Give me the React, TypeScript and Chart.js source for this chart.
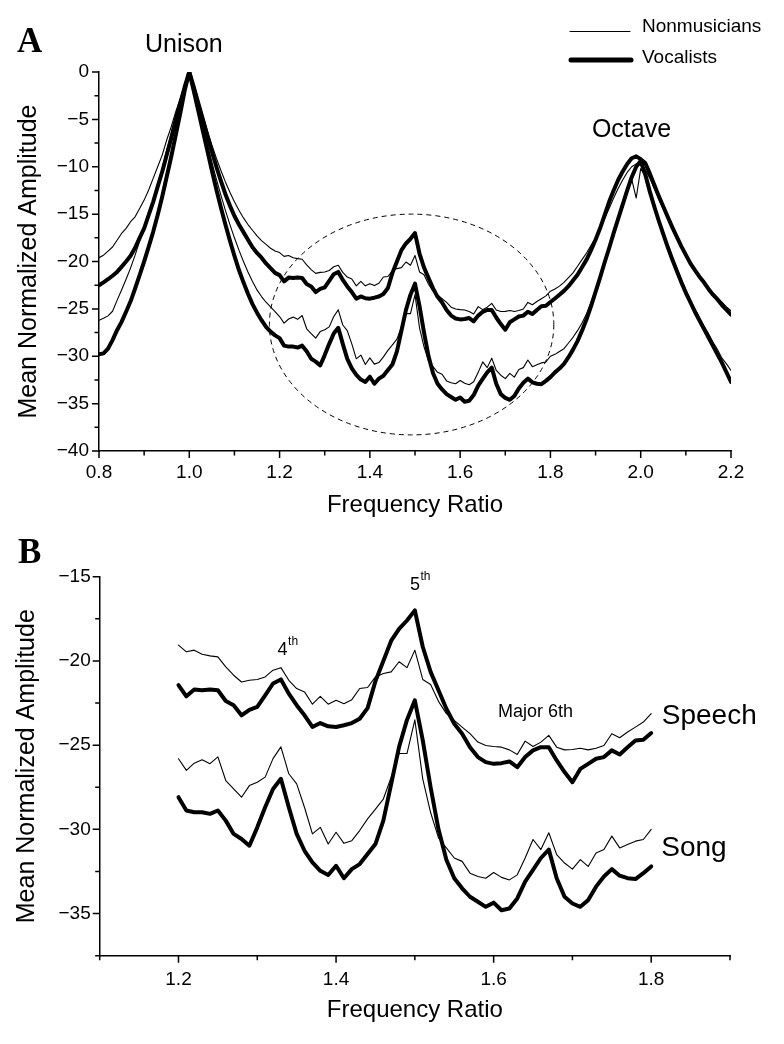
import React, { useEffect, useRef } from 'react';
import { Chart, registerables } from 'chart.js';

Chart.register(...registerables);

// ---------- data (frequency ratio, mean normalized amplitude in dB) ----------
const FREQ = [
  0.80, 0.81, 0.82, 0.83, 0.84, 0.85, 0.86, 0.87, 0.88, 0.89,
  0.90, 0.91, 0.92, 0.93, 0.94, 0.95, 0.96, 0.97, 0.98, 0.99,
  1.00, 1.01, 1.02, 1.03, 1.04, 1.05, 1.06, 1.07, 1.08, 1.09,
  1.10, 1.11, 1.12, 1.13, 1.14, 1.15, 1.16, 1.17, 1.18, 1.19,
  1.20, 1.21, 1.22, 1.23, 1.24, 1.25, 1.26, 1.27, 1.28, 1.29,
  1.30, 1.31, 1.32, 1.33, 1.34, 1.35, 1.36, 1.37, 1.38, 1.39,
  1.40, 1.41, 1.42, 1.43, 1.44, 1.45, 1.46, 1.47, 1.48, 1.49,
  1.50, 1.51, 1.52, 1.53, 1.54, 1.55, 1.56, 1.57, 1.58, 1.59,
  1.60, 1.61, 1.62, 1.63, 1.64, 1.65, 1.66, 1.67, 1.68, 1.69,
  1.70, 1.71, 1.72, 1.73, 1.74, 1.75, 1.76, 1.77, 1.78, 1.79,
  1.80, 1.81, 1.82, 1.83, 1.84, 1.85, 1.86, 1.87, 1.88, 1.89,
  1.90, 1.91, 1.92, 1.93, 1.94, 1.95, 1.96, 1.97, 1.98, 1.99,
  2.00, 2.01, 2.02, 2.03, 2.04, 2.05, 2.06, 2.07, 2.08, 2.09,
  2.10, 2.11, 2.12, 2.13, 2.14, 2.15, 2.16, 2.17, 2.18, 2.19,
  2.20,
];

const NONMUSICIAN_SPEECH = [
  -19.6, -19.33, -18.9, -18.47, -17.75, -17.04, -16.5, -15.8, -15.28, -14.4,
  -13.52, -12.46, -11.23, -10.0, -8.77, -7.18, -5.78, -4.19, -2.78, -1.37,
  0, -1.5, -3.0, -4.6, -6.2, -7.7, -9.1, -10.4, -11.6, -12.7,
  -13.7, -14.6, -15.4, -16.1, -16.7, -17.3, -17.8, -18.2, -18.6, -18.9,
  -19.06, -19.46, -19.36, -19.6, -19.7, -19.76, -20.35, -20.85, -21.25, -21.15,
  -21.1, -20.95, -20.55, -20.4, -21.15, -21.64, -21.84, -22.57, -22.1, -22.57,
  -22.34, -22.54, -22.3, -21.64, -21.58, -20.95, -20.75, -20.65, -20.05, -20.4,
  -19.36, -21.1, -21.4, -22.4, -23.13, -23.53, -23.93, -24.32, -24.82, -25.02,
  -25.08, -25.12, -25.28, -25.55, -24.76, -25.08, -24.82, -24.42, -25.12, -25.28,
  -25.26, -25.18, -25.28, -25.18, -25.02, -24.32, -24.56, -24.22, -23.93, -23.63,
  -23.13, -22.9, -22.6, -22.2, -21.7, -21.2, -20.5, -19.8, -19.1, -18.3,
  -17.5, -16.5, -15.5, -14.4, -13.3, -12.3, -11.4, -10.6, -10.0, -9.7,
  -9.8, -10.3, -11.2, -12.3, -13.4, -14.5, -15.5, -16.5, -17.4, -18.3,
  -19.2, -20.0, -20.8, -21.5, -22.1, -22.7, -23.3, -23.8, -24.3, -24.8,
  -25.2,
];

const VOCALIST_SPEECH = [
  -22.5, -22.2, -21.87, -21.5, -21.1, -20.56, -20.0, -19.4, -18.55, -17.5,
  -16.5, -15.1, -13.7, -12.1, -10.53, -8.77, -7.0, -5.07, -3.3, -1.55,
  0, -1.6, -3.3, -5.0, -6.7, -8.4, -10.0, -11.5, -12.9, -14.1,
  -15.2, -16.1, -16.9, -17.7, -18.5, -19.1, -19.6, -20.2, -20.7, -21.2,
  -21.44, -22.1, -21.7, -21.74, -21.7, -21.74, -22.38, -22.63, -23.23, -22.9,
  -22.73, -22.04, -21.34, -21.1, -21.94, -22.63, -23.23, -23.92, -23.69, -23.88,
  -23.92, -23.82, -23.69, -23.43, -22.8, -21.2, -20.0, -18.8, -18.1, -17.6,
  -17.0, -19.16, -20.65, -21.74, -22.84, -23.73, -24.32, -25.12, -25.71, -26.01,
  -26.11, -26.07, -25.97, -26.31, -25.71, -25.31, -25.12, -25.12, -25.91, -26.6,
  -27.2, -26.41, -26.11, -25.81, -25.71, -25.31, -25.55, -25.12, -24.72, -24.68,
  -24.28, -23.9, -23.5, -23.1, -22.6, -22.0, -21.4, -20.6, -19.8, -18.8,
  -17.7, -16.5, -15.1, -13.7, -12.5, -11.4, -10.5, -9.7, -9.1, -8.9,
  -9.2, -9.6, -10.7, -11.9, -13.1, -14.2, -15.3, -16.4, -17.4, -18.4,
  -19.3, -20.2, -20.9, -21.6, -22.2, -22.9, -23.5, -24.0, -24.6, -25.1,
  -25.6,
];

const NONMUSICIAN_SONG = [
  -26.2, -26.0, -25.74, -25.25, -24.1, -23.0, -21.87, -20.67, -19.33, -17.85,
  -16.5, -15.0, -13.5, -11.76, -10.2, -8.24, -6.48, -4.54, -2.96, -1.37,
  0, -1.9, -3.8, -5.7, -7.6, -9.5, -11.3, -13.0, -14.6, -16.1,
  -17.5, -18.8, -20.0, -21.1, -22.1, -23.0, -23.7, -24.3, -24.8, -25.3,
  -25.81, -26.5, -26.07, -25.87, -26.1, -25.7, -27.1, -27.6, -28.09, -27.4,
  -27.2, -26.9, -25.8, -25.1, -26.7, -27.3, -28.7, -30.27, -29.88, -30.87,
  -30.17, -30.83, -30.67, -30.07, -29.38, -28.8, -28.2, -26.9, -25.5, -25.5,
  -23.5, -27.0, -29.0, -30.5, -31.1, -31.7, -31.9, -32.6, -32.8, -32.9,
  -32.56, -32.85, -33.0, -32.7, -31.7, -30.6, -31.2, -30.2, -31.5, -32.0,
  -32.36, -31.8, -32.2, -31.4, -31.2, -30.4, -31.1, -30.9, -30.7, -30.6,
  -30.0, -29.8, -29.5, -29.2, -28.6, -28.0, -27.3, -26.5, -25.5, -24.3,
  -23.0, -21.6, -20.2, -18.8, -17.3, -15.8, -14.3, -12.8, -11.3, -13.3,
  -10.2, -11.0, -12.5, -14.0, -15.5, -16.9, -18.2, -19.5, -20.7, -21.9,
  -23.0, -24.0, -25.0, -25.9, -26.8, -27.6, -28.5, -29.3, -30.2, -30.8,
  -31.5,
];

const VOCALIST_SONG = [
  -29.8, -29.7, -29.2, -28.3, -27.25, -26.37, -25.3, -24.2, -22.85, -21.44,
  -20.0, -18.45, -16.87, -15.1, -13.17, -11.06, -8.95, -6.65, -4.36, -1.9,
  0, -2.0, -4.1, -6.2, -8.3, -10.4, -12.4, -14.3, -16.1, -17.8,
  -19.4, -20.9, -22.2, -23.4, -24.5, -25.4, -26.2, -26.9, -27.4, -27.8,
  -28.09, -28.88, -28.98, -28.98, -29.08, -28.88, -29.48, -30.27, -30.57, -30.97,
  -29.88, -28.69, -27.6, -27.0, -28.69, -30.27, -31.27, -31.96, -32.46, -32.71,
  -32.16, -32.9, -32.36, -32.06, -31.46, -30.87, -29.48, -27.3, -25.1, -23.5,
  -22.34, -24.7, -27.5, -30.0, -31.8, -32.9, -33.5, -34.0, -34.3, -34.6,
  -34.35, -34.8, -34.7, -34.1, -33.1, -32.4, -31.7, -31.2, -32.9, -34.0,
  -34.4, -34.6, -34.2, -33.4, -32.8, -32.36, -32.75, -32.9, -32.95, -32.6,
  -32.2, -31.7, -31.3, -30.8, -30.1, -29.3, -28.4, -27.3, -26.1, -24.7,
  -23.2, -21.7, -20.1, -18.6, -17.0, -15.5, -14.0, -12.5, -11.1, -10.0,
  -9.4, -10.8, -12.6, -14.2, -15.7, -17.1, -18.5, -19.8, -21.0, -22.2,
  -23.3, -24.3, -25.3, -26.2, -27.1, -28.0, -28.9, -29.8, -30.7, -31.7,
  -32.7,
];

// tick labels shown on each axis
const A_X_LABELED = [0.8, 1.0, 1.2, 1.4, 1.6, 1.8, 2.0, 2.2];
const A_Y_LABELED = [0, -5, -10, -15, -20, -25, -30, -35, -40];
const B_X_LABELED = [1.2, 1.4, 1.6, 1.8];
const B_Y_LABELED = [-15, -20, -25, -30, -35];

// panel B shows the 1.2 – 1.8 window
const B_WINDOW = [1.2, 1.8];

// dashed ellipse of panel A (data units)
const ELLIPSE = { cx: 1.4925, cy: -26.65, rx: 0.315, ry: 11.65 };

// ---------- helpers ----------
const SANS = '"Liberation Sans", Arial, Helvetica, sans-serif';
const SERIF = '"Liberation Serif", "Times New Roman", serif';

const pts = (ys: number[], lo = -Infinity, hi = Infinity) =>
  FREQ.map((x, i) => ({ x, y: ys[i] })).filter((p) => p.x >= lo - 1e-9 && p.x <= hi + 1e-9);

const has = (list: number[], v: number) => list.some((l) => Math.abs(l - v) < 1e-6);
const fmtY = (v: number) => (v < 0 ? '\u2212' + Math.round(Math.abs(v)) : String(Math.round(v)));

function tickPlugin(xMajor: number[], yMajor: number[]) {
  return {
    id: 'tickMarks',
    afterDraw(chart: any) {
      const { ctx, chartArea } = chart;
      const xs = chart.scales.x;
      const ys = chart.scales.y;
      ctx.save();
      ctx.strokeStyle = '#000';
      ctx.lineWidth = 1.5;
      ctx.beginPath();
      xs.ticks.forEach((t: any) => {
        const p = xs.getPixelForValue(t.value);
        const len = has(xMajor, t.value) ? 7 : 4.5;
        ctx.moveTo(p, chartArea.bottom);
        ctx.lineTo(p, chartArea.bottom + len);
      });
      ys.ticks.forEach((t: any) => {
        const p = ys.getPixelForValue(t.value);
        const len = has(yMajor, t.value) ? 7 : 4.5;
        ctx.moveTo(chartArea.left, p);
        ctx.lineTo(chartArea.left - len, p);
      });
      ctx.stroke();
      ctx.restore();
    },
  };
}

type Txt = {
  text: string;
  x?: number;
  y?: number;
  px?: number;
  py?: number;
  size: number;
  align?: CanvasTextAlign;
  bold?: boolean;
  serif?: boolean;
  sup?: string;
  supSize?: number;
};

function textPlugin(items: Txt[]) {
  return {
    id: 'texts',
    afterDraw(chart: any) {
      const { ctx } = chart;
      const xs = chart.scales.x;
      const ys = chart.scales.y;
      ctx.save();
      ctx.fillStyle = '#000';
      ctx.textBaseline = 'alphabetic';
      for (const it of items) {
        const X = it.px !== undefined ? it.px : xs.getPixelForValue(it.x);
        const Y = it.py !== undefined ? it.py : ys.getPixelForValue(it.y);
        ctx.font = `${it.bold ? 'bold ' : ''}${it.size}px ${it.serif ? SERIF : SANS}`;
        ctx.textAlign = it.align || 'left';
        ctx.fillText(it.text, X, Y);
        if (it.sup) {
          const w = ctx.measureText(it.text).width;
          ctx.font = `${it.supSize}px ${SANS}`;
          ctx.textAlign = 'left';
          ctx.fillText(it.sup, X + w + 0.5, Y - it.size * 0.58);
        }
      }
      ctx.restore();
    },
  };
}

const legendPlugin = {
  id: 'styleLegend',
  afterDraw(chart: any) {
    const { ctx } = chart;
    ctx.save();
    ctx.strokeStyle = '#000';
    ctx.lineCap = 'round';
    ctx.lineWidth = 1;
    ctx.beginPath();
    ctx.moveTo(570, 31.5);
    ctx.lineTo(630, 31.5);
    ctx.stroke();
    ctx.lineWidth = 5;
    ctx.beginPath();
    ctx.moveTo(571, 60);
    ctx.lineTo(631, 60);
    ctx.stroke();
    ctx.fillStyle = '#000';
    ctx.font = `19px ${SANS}`;
    ctx.textAlign = 'left';
    ctx.textBaseline = 'alphabetic';
    ctx.fillText('Nonmusicians', 642, 32);
    ctx.fillText('Vocalists', 642, 63);
    ctx.restore();
  },
};

const ellipsePlugin = {
  id: 'dashedEllipse',
  afterDatasetsDraw(chart: any) {
    const { ctx } = chart;
    const xs = chart.scales.x;
    const ys = chart.scales.y;
    const cx = xs.getPixelForValue(ELLIPSE.cx);
    const cy = ys.getPixelForValue(ELLIPSE.cy);
    const rx = Math.abs(xs.getPixelForValue(ELLIPSE.cx + ELLIPSE.rx) - cx);
    const ry = Math.abs(ys.getPixelForValue(ELLIPSE.cy + ELLIPSE.ry) - cy);
    ctx.save();
    ctx.strokeStyle = '#000';
    ctx.lineWidth = 1;
    ctx.setLineDash([5, 4]);
    ctx.beginPath();
    ctx.ellipse(cx, cy, rx, ry, 0, 0, Math.PI * 2);
    ctx.stroke();
    ctx.restore();
  },
};

type PanelCfg = {
  lo: number;
  hi: number;
  xMin: number;
  xMax: number;
  yMin: number;
  yMax: number;
  xLabeled: number[];
  yLabeled: number[];
  padTop: number;
  padRight: number;
  yAxisWidth: number;
  xAxisHeight: number;
  xTickPad: number;
  yTickPad: number;
  xTitlePadBottom: number;
  yTitlePadTop: number;
  extraPlugins: any[];
};

function buildConfig(c: PanelCfg): any {
  const thick = { borderColor: '#000', borderWidth: 4, pointRadius: 0 };
  const thin = { borderColor: '#000', borderWidth: 1.1, pointRadius: 0 };
  return {
    type: 'line',
    data: {
      datasets: [
        { label: 'Vocalists – Speech', data: pts(VOCALIST_SPEECH, c.lo, c.hi), ...thick },
        { label: 'Vocalists – Song', data: pts(VOCALIST_SONG, c.lo, c.hi), ...thick },
        { label: 'Nonmusicians – Speech', data: pts(NONMUSICIAN_SPEECH, c.lo, c.hi), ...thin },
        { label: 'Nonmusicians – Song', data: pts(NONMUSICIAN_SONG, c.lo, c.hi), ...thin },
      ],
    },
    options: {
      responsive: false,
      maintainAspectRatio: false,
      animation: false,
      devicePixelRatio: 1,
      layout: { padding: { left: 0, right: c.padRight, top: c.padTop, bottom: 0 } },
      elements: {
        line: { tension: 0, borderJoinStyle: 'round', borderCapStyle: 'round', fill: false },
        point: { radius: 0, hoverRadius: 0 },
      },
      plugins: { legend: { display: false }, tooltip: { enabled: false }, title: { display: false } },
      events: [],
      scales: {
        x: {
          type: 'linear',
          min: c.xMin,
          max: c.xMax,
          grid: { display: false, drawTicks: false },
          border: { display: true, color: '#000', width: 1.5 },
          ticks: {
            stepSize: 0.1,
            autoSkip: false,
            maxRotation: 0,
            minRotation: 0,
            padding: c.xTickPad,
            color: '#000',
            font: { family: SANS, size: 19, lineHeight: 1.2 },
            callback: (v: number) => (has(c.xLabeled, v) ? Number(v).toFixed(1) : ''),
          },
          title: {
            display: true,
            text: 'Frequency Ratio',
            color: '#000',
            font: { family: SANS, size: 24, lineHeight: 1.2 },
            padding: { top: 0, bottom: c.xTitlePadBottom },
          },
          afterFit: (s: any) => {
            s.height = c.xAxisHeight;
          },
        },
        y: {
          type: 'linear',
          min: c.yMin,
          max: c.yMax,
          grid: { display: false, drawTicks: false },
          border: { display: true, color: '#000', width: 1.5 },
          ticks: {
            stepSize: 2.5,
            autoSkip: false,
            padding: c.yTickPad,
            color: '#000',
            font: { family: SANS, size: 19, lineHeight: 1.2 },
            callback: (v: number) => (has(c.yLabeled, v) ? fmtY(v) : ''),
          },
          title: {
            display: true,
            text: 'Mean Normalized Amplitude',
            color: '#000',
            font: { family: SANS, size: 25, lineHeight: 1.2 },
            padding: { top: c.yTitlePadTop, bottom: 0 },
          },
          afterFit: (s: any) => {
            s.width = c.yAxisWidth;
          },
        },
      },
    },
    plugins: [tickPlugin(c.xLabeled, c.yLabeled), ...c.extraPlugins],
  };
}

const PANEL_A: PanelCfg = {
  lo: -Infinity,
  hi: Infinity,
  xMin: 0.8,
  xMax: 2.2,
  yMin: -40,
  yMax: 0,
  xLabeled: A_X_LABELED,
  yLabeled: A_Y_LABELED,
  padTop: 72,
  padRight: 53,
  yAxisWidth: 99,
  xAxisHeight: 79,
  xTickPad: 10.6,
  yTickPad: 10,
  xTitlePadBottom: 10.6,
  yTitlePadTop: 14,
  extraPlugins: [
    ellipsePlugin,
    legendPlugin,
    textPlugin([
      { text: 'A', px: 17, py: 51.5, size: 35, bold: true, serif: true },
      { text: 'Unison', x: 0.988, y: 2.15, size: 25, align: 'center' },
      { text: 'Octave', x: 1.9796, y: -6.83, size: 25, align: 'center' },
    ]),
  ],
};

const PANEL_B: PanelCfg = {
  lo: B_WINDOW[0],
  hi: B_WINDOW[1],
  xMin: 1.1,
  xMax: 1.9,
  yMin: -37.5,
  yMax: -15,
  xLabeled: B_X_LABELED,
  yLabeled: B_Y_LABELED,
  padTop: 46.7,
  padRight: 54,
  yAxisWidth: 99.7,
  xAxisHeight: 88.3,
  xTickPad: 12.2,
  yTickPad: 9,
  xTitlePadBottom: 19.6,
  yTitlePadTop: 12.5,
  extraPlugins: [
    textPlugin([
      { text: 'B', px: 18, py: 33.3, size: 35, bold: true, serif: true },
      { text: '4', x: 1.3258, y: -19.66, size: 18, sup: 'th', supSize: 12 },
      { text: '5', x: 1.4937, y: -15.79, size: 18, sup: 'th', supSize: 12 },
      { text: 'Major 6th', x: 1.6532, y: -23.35, size: 18, align: 'center' },
      { text: 'Speech', x: 1.8134, y: -23.77, size: 28 },
      { text: 'Song', x: 1.8127, y: -31.57, size: 28 },
    ]),
  ],
};

function Panel({ cfg, height }: { cfg: PanelCfg; height: number }) {
  const ref = useRef<HTMLCanvasElement | null>(null);
  useEffect(() => {
    if (!ref.current) return;
    const chart = new Chart(ref.current, buildConfig(cfg));
    return () => chart.destroy();
  }, [cfg]);
  return (
    <canvas
      ref={ref}
      width={784}
      height={height}
      style={{ display: 'block', width: 784, height }}
    />
  );
}

export default function App() {
  return (
    <div
      style={{
        position: 'absolute',
        left: 0,
        top: 0,
        width: 784,
        height: 1044,
        background: '#fff',
        overflow: 'hidden',
      }}
    >
      <Panel cfg={PANEL_A} height={530} />
      <Panel cfg={PANEL_B} height={514} />
    </div>
  );
}
